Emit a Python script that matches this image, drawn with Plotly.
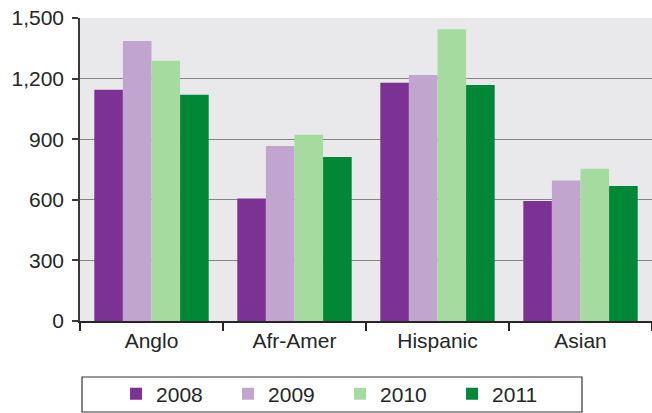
import plotly.graph_objects as go

categories = ["Anglo", "Afr-Amer", "Hispanic", "Asian"]
years = ["2008", "2009", "2010", "2011"]
v2008 = [1145, 607, 1180, 594]
v2009 = [1386, 866, 1218, 695]
v2010 = [1288, 922, 1444, 754]
v2011 = [1120, 812, 1168, 668]
series = [v2008, v2009, v2010, v2011]
colors = ["#7b3294", "#c2a5cf", "#a6dba0", "#008837"]
ytick_vals = [0, 300, 600, 900, 1200, 1500]
ytick_text = ["0", "300", "600", "900", "1,200", "1,500"]

fig = go.Figure()
for name, vals, col in zip(years, series, colors):
    fig.add_trace(go.Bar(x=categories, y=vals, name=name, marker_color=col,
                         marker_line_width=0))

font = dict(family="Liberation Sans, Arial, sans-serif", size=21, color="#262626")
fig.update_layout(
    width=652, height=413,
    margin=dict(l=80, r=0, t=18, b=92, autoexpand=False),
    paper_bgcolor="white",
    plot_bgcolor="#e9e9ec",
    barmode="group",
    bargap=0.2,
    bargroupgap=0,
    font=font,
    showlegend=True,
    legend=dict(orientation="h", x=0.063, xanchor="left", y=-0.241, yanchor="middle",
                entrywidth=67, entrywidthmode="pixels",
                bgcolor="rgba(0,0,0,0)", borderwidth=0,
                font=font, traceorder="normal"),
    xaxis=dict(showgrid=False, showline=True, linecolor="#262626", linewidth=1.5,
               ticks="outside", tickson="boundaries", ticklen=8, tickcolor="#262626",
               tickwidth=1.5, tickfont=font, automargin=False),
    yaxis=dict(range=[0, 1500], tickvals=ytick_vals, ticktext=ytick_text,
               showgrid=True, gridcolor="#858585", gridwidth=1.3,
               showline=True, linecolor="#3a3a3a", linewidth=1.5,
               ticks="outside", ticklen=6, tickcolor="#3a3a3a", tickwidth=1.5,
               ticklabelstandoff=4, automargin=False, ticklabeloverflow="allow",
               zeroline=False, tickfont=font),
    shapes=[dict(type="rect", xref="paper", yref="paper",
                 x0=(82 - 80) / 572, x1=(582 - 80) / 572,
                 y0=(321 - 377) / 303, y1=(321 - 412) / 303,
                 line=dict(color="#333333", width=1.2), fillcolor="rgba(0,0,0,0)")],
)

fig.write_html("out.html", config={"displayModeBar": False},
               post_script="document.body.style.margin='0';")
